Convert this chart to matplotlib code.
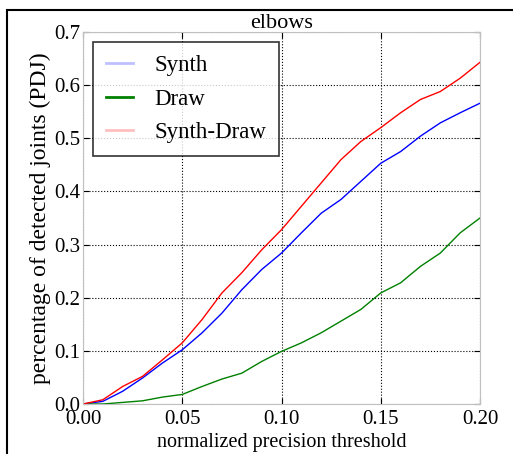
import numpy as np
import matplotlib
matplotlib.use("Agg")
import matplotlib.pyplot as plt
from matplotlib.patches import Rectangle
from matplotlib.lines import Line2D

# thresholds and PDJ curves
thresh = [0.00, 0.01, 0.02, 0.03, 0.04, 0.05, 0.06, 0.07, 0.08, 0.09, 0.10,
          0.11, 0.12, 0.13, 0.14, 0.15, 0.16, 0.17, 0.18, 0.19, 0.20]
synth = [0.0, 0.005, 0.024, 0.049, 0.077, 0.102, 0.134, 0.171, 0.215, 0.253, 0.284,
         0.322, 0.359, 0.385, 0.419, 0.453, 0.475, 0.504, 0.529, 0.548, 0.566]
draw = [0.0, 0.0, 0.003, 0.006, 0.013, 0.018, 0.033, 0.047, 0.058, 0.080, 0.099,
        0.115, 0.134, 0.156, 0.178, 0.209, 0.228, 0.259, 0.284, 0.322, 0.350]
synth_draw = [0.0, 0.008, 0.033, 0.052, 0.083, 0.115, 0.159, 0.209, 0.247, 0.290, 0.328,
              0.372, 0.416, 0.460, 0.494, 0.520, 0.548, 0.573, 0.588, 0.613, 0.643]

plt.rcParams["font.family"] = ["Liberation Serif", "DejaVu Serif"]

fig = plt.figure(figsize=(5.13, 4.54), dpi=100)
fig.patches.append(Rectangle((7/513, -0.1), 1.2, 1 - 10/454 + 0.1, transform=fig.transFigure,
                             fill=False, edgecolor="black", linewidth=1.5))
ax = fig.add_axes([83/513, 50/454, 397/513, 372/454])

ax.plot(thresh, synth, color="#0000ff", lw=1.0)
ax.plot(thresh, draw, color="#008000", lw=1.0)
ax.plot(thresh, synth_draw, color="#ff0000", lw=1.0)

ax.set_xlim(0, 0.2)
ax.set_ylim(0, 0.7)
ax.set_xticks([0.0, 0.05, 0.1, 0.15, 0.2])
ax.set_xticklabels(["0.00", "0.05", "0.10", "0.15", "0.20"])
ax.set_yticks(np.arange(0, 0.71, 0.1))
ax.set_yticklabels(["0.0", "0.1", "0.2", "0.3", "0.4", "0.5", "0.6", "0.7"])
ax.tick_params(direction="in", labelsize=15, pad=2, length=4, top=True, right=True)
ax.tick_params(axis="x", pad=4)
ax.grid(True, color="black", linestyle=":", linewidth=0.8)
for s in ax.spines.values():
    s.set_color("#c0c0c0")

ax.set_xlabel("normalized precision threshold", fontsize=14.5, labelpad=3)
ax.set_ylabel("percentage of detected joints (PDJ)", fontsize=17, labelpad=2)
ax.set_title("elbows", fontsize=16, pad=3)

handles = [Line2D([], [], color="#0000ff", alpha=0.25, lw=2),
           Line2D([], [], color="#008000", lw=2),
           Line2D([], [], color="#ff0000", alpha=0.25, lw=2)]
leg = ax.legend(handles, ["Synth", "Draw", "Synth-Draw"], loc="upper left",
                fontsize=16.5, fancybox=False, borderpad=0.55, handlelength=1.2,
                handletextpad=0.9, labelspacing=0.55, borderaxespad=0.45)
leg.get_frame().set_edgecolor("black")
leg.get_frame().set_linewidth(1.2)

fig.savefig("out.png", dpi=100)
